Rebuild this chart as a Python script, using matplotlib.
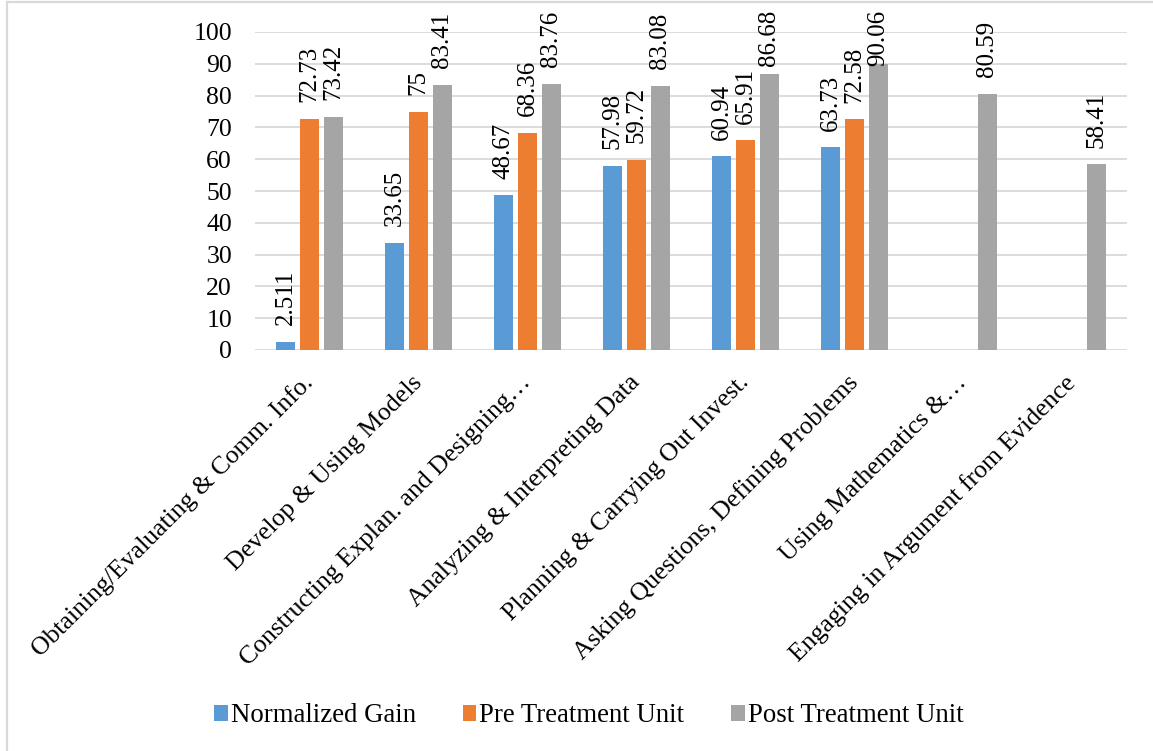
import numpy as np
import matplotlib
matplotlib.use("Agg")
import matplotlib.pyplot as plt
from matplotlib.lines import Line2D

# Science practice categories and scores per series
categories = [
    "Obtaining/Evaluating & Comm. Info.",
    "Develop & Using Models",
    "Constructing Explan. and Designing\u2026",
    "Analyzing & Interpreting Data",
    "Planning & Carrying Out Invest.",
    "Asking Questions, Defining Problems",
    "Using Mathematics &\u2026",
    "Engaging in Argument from Evidence",
]
normalized_gain = [2.511, 33.65, 48.67, 57.98, 60.94, 63.73, np.nan, np.nan]
pre_treatment = [72.73, 75, 68.36, 59.72, 65.91, 72.58, np.nan, np.nan]
post_treatment = [73.42, 83.41, 83.76, 83.08, 86.68, 90.06, 80.59, 58.41]

series_names = ["Normalized Gain", "Pre Treatment Unit", "Post Treatment Unit"]
series_colors = ["#5B9BD5", "#ED7D31", "#A5A5A5"]
y_ticks = list(range(0, 101, 10))

SERIF = ["Liberation Serif", "DejaVu Serif"]
plt.rcParams["font.family"] = SERIF

W, H = 1153, 751
fig = plt.figure(figsize=(W / 100, H / 100), dpi=100)
ax = fig.add_axes([255 / W, 1 - 350 / H, (1127 - 255) / W, (350 - 32) / H])

x = np.arange(len(categories))
bar_w = 0.175
step = 0.22
series = [normalized_gain, pre_treatment, post_treatment]

labels = []
for i, (vals, name, col) in enumerate(zip(series, series_names, series_colors)):
    xs = x + (i - 1) * step
    ax.bar(xs, vals, width=bar_w, color=col, label=name, zorder=3)
    for xi, v in zip(xs, vals):
        if np.isnan(v):
            continue
        t = ax.annotate(f"{v:g}", xy=(xi, v), xytext=(0, 12), textcoords="offset points",
                        rotation=90, ha="center", va="bottom", fontsize=18,
                        family=SERIF, annotation_clip=False, zorder=4)
        labels.append(t)

ax.set_xlim(-0.5, len(categories) - 0.5)
ax.set_ylim(0, 100)
ax.set_yticks(y_ticks)
ax.tick_params(axis="y", length=0, labelsize=18.5, pad=16.5)
ax.tick_params(axis="x", length=0, pad=21)
ax.set_xticks(x)
ax.set_xticklabels(categories, rotation=45, ha="right", rotation_mode="anchor",
                   va="center", fontsize=18.5)
ax.grid(axis="y", color="#D9D9D9", linewidth=1.3, zorder=0)
for s in ax.spines.values():
    s.set_visible(False)

ax.legend(loc="center", bbox_to_anchor=(589 / W, 1 - 716 / H), bbox_transform=fig.transFigure,
          ncol=3, frameon=False, fontsize=19.3, handlelength=0.5, handleheight=0.5,
          handletextpad=0.12, columnspacing=1.75)

# light frame edges (top and left) around the chart
frame_kw = dict(transform=fig.transFigure, color="#D9D9D9", linewidth=1.6)
fig.add_artist(Line2D([7 / W, 1], [1 - 2 / H, 1 - 2 / H], **frame_kw))
fig.add_artist(Line2D([7 / W, 7 / W], [0, 1 - 2 / H], **frame_kw))

# keep value labels inside the chart area (push down the ones that run off the top)
fig.canvas.draw()
renderer = fig.canvas.get_renderer()
top_px = H - 10
for t in labels:
    bb = t.get_window_extent(renderer)
    if bb.y1 > top_px:
        ox, oy = t.xyann
        t.xyann = (ox, oy - (bb.y1 - top_px) * 72 / fig.dpi)

fig.savefig("out.png", dpi=100)
